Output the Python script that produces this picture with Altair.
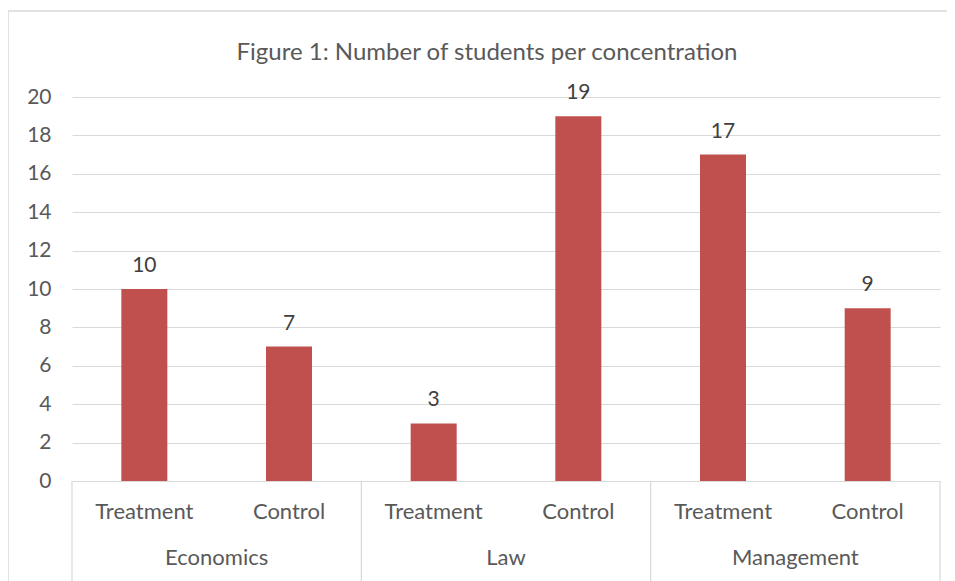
import altair as alt
import pandas as pd

groups = ["Economics", "Economics", "Law", "Law", "Management", "Management"]
conditions = ["Treatment", "Control", "Treatment", "Control", "Treatment", "Control"]
values = [10, 7, 3, 19, 17, 9]
group_names = ["Economics", "Law", "Management"]
y_ticks = [0, 2, 4, 6, 8, 10, 12, 14, 16, 18, 20]
title_text = ["Figure 1: Number of students per concentration"]

FONT = "Lato"
GRAY = "#595959"
LINE = "#d9d9d9"

bars = pd.DataFrame({
    "idx": list(range(len(values))),
    "group": groups,
    "condition": conditions,
    "value": values,
})
grp = pd.DataFrame({
    "name": group_names,
    "center": [2 * i + 0.5 for i in range(len(group_names))],
})
seps = pd.DataFrame({"pos": [2 * i - 0.5 for i in range(len(group_names) + 1)]})
ttl = pd.DataFrame({"t": title_text})

W, H = 868, 384
xscale = alt.Scale(domain=[-0.5, 5.5], nice=False, zero=False, padding=0)
yscale = alt.Scale(domain=[0, 20], nice=False)

xaxis = alt.Axis(labels=False, ticks=False, grid=False, title=None,
                 domain=True, domainColor=LINE, domainWidth=1)
yaxis = alt.Axis(values=y_ticks, title=None, domain=False,
                 ticks=False, grid=True, gridColor=LINE, gridWidth=1,
                 labelFont=FONT, labelFontSize=21, labelColor=GRAY,
                 labelPadding=21, labelOverlap=False)

base = alt.Chart(bars)

bar = base.mark_bar(size=46, color="#C0504D").encode(
    x=alt.X("idx:Q", scale=xscale, axis=xaxis),
    y=alt.Y("value:Q", scale=yscale, axis=yaxis),
)

labels = base.mark_text(font=FONT, fontSize=21, color="#404040",
                        baseline="alphabetic", dy=-17).encode(
    x=alt.X("idx:Q", scale=xscale, axis=xaxis),
    y=alt.Y("value:Q", scale=yscale, axis=yaxis),
    text="value:Q",
)

cond_text = base.mark_text(font=FONT, fontSize=22, color=GRAY,
                           baseline="alphabetic", clip=False).encode(
    x=alt.X("idx:Q", scale=xscale, axis=xaxis),
    y=alt.value(H + 38),
    text="condition:N",
)

grp_text = alt.Chart(grp).mark_text(font=FONT, fontSize=22, color=GRAY,
                                    baseline="alphabetic", clip=False).encode(
    x=alt.X("center:Q", scale=xscale, axis=xaxis),
    y=alt.value(H + 84),
    text="name:N",
)

sep_rules = alt.Chart(seps).mark_rule(color=LINE, strokeWidth=1.2, clip=False).encode(
    x=alt.X("pos:Q", scale=xscale, axis=xaxis),
    y=alt.value(H),
    y2=alt.value(H + 110),
)

title = alt.Chart(ttl).mark_text(font=FONT, fontSize=24, color=GRAY,
                                 baseline="alphabetic", clip=False).encode(
    x=alt.value(415), y=alt.value(-37), text="t:N",
)

border_left = alt.Chart(ttl).mark_rule(color=LINE, strokeWidth=1.5, clip=False).encode(
    x=alt.value(-64), y=alt.value(-86), y2=alt.value(H + 110),
)
border_top = alt.Chart(ttl).mark_rule(color=LINE, strokeWidth=1.5, clip=False).encode(
    y=alt.value(-86), x=alt.value(-64), x2=alt.value(W + 30),
)

chart = alt.layer(
    border_left, border_top, bar, labels, cond_text, grp_text, sep_rules, title
).properties(
    width=W,
    height=H,
    padding={"left": 64, "top": 89, "right": 7, "bottom": 100},
    autosize=alt.AutoSizeParams(type="none"),
).configure(background="white").configure_view(stroke=None, strokeWidth=0)

chart.save("out.html", embed_options={"renderer": "svg", "actions": False})
